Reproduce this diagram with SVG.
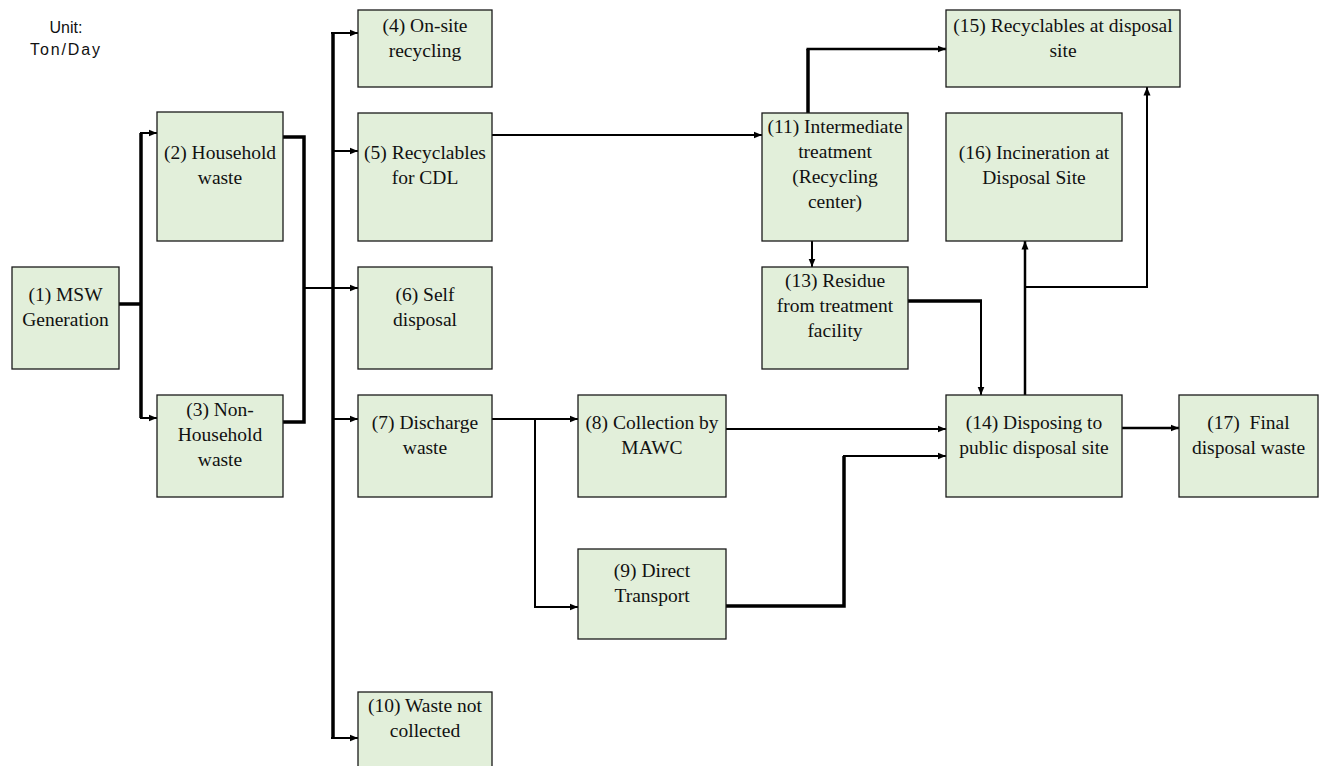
<svg xmlns="http://www.w3.org/2000/svg" width="1320" height="766" viewBox="0 0 1320 766">
<style>
.box{fill:#E2EFDA;stroke:#1a1a1a;stroke-width:1.3}
.t{font-family:"Liberation Serif","Times New Roman",serif;font-size:19.5px;fill:#111;text-anchor:middle}
.u{font-family:"Liberation Sans",Arial,sans-serif;font-size:16px;fill:#111;text-anchor:middle}
.c{fill:none;stroke:#000;stroke-linejoin:miter;stroke-linecap:butt}
.thin{stroke-width:2}
.mid{stroke-width:2.5}
.thick{stroke-width:3.5}
</style>
<defs>
<marker id="ah" markerUnits="userSpaceOnUse" markerWidth="9" markerHeight="8" refX="8.5" refY="4" orient="auto">
<path d="M0,0.5 L8.5,4 L0,7.5 z" fill="#000"/>
</marker>
</defs>
<rect width="1320" height="766" fill="#fff"/>
<g id="unit">
<text class="u" x="66" y="33">Unit:</text>
<text class="u" x="65" y="55" textLength="70" lengthAdjust="spacing">Ton/Day</text>
</g>
<g id="connectors">
<path class="c thick" d="M119,304 H141"/>
<path class="c thick" d="M141,133 V418"/>
<path class="c thin" d="M140,133 H157" marker-end="url(#ah)"/>
<path class="c thin" d="M140,418 H157" marker-end="url(#ah)"/>
<path class="c thick" d="M283,137 H304 V422 H283"/>
<path class="c thin" d="M304,288 H358" marker-end="url(#ah)"/>
<path class="c thick" d="M333,32 V739"/>
<path class="c thin" d="M331,33 H358" marker-end="url(#ah)"/>
<path class="c thin" d="M333,151 H358" marker-end="url(#ah)"/>
<path class="c thin" d="M333,419 H358" marker-end="url(#ah)"/>
<path class="c thin" d="M331,738 H358" marker-end="url(#ah)"/>
<path class="c thin" d="M492,419 H578" marker-end="url(#ah)"/>
<path class="c thin" d="M535,419 V607 H578" marker-end="url(#ah)"/>
<path class="c thin" d="M726,429 H946" marker-end="url(#ah)"/>
<path class="c thick" d="M726,606 H844 V456"/>
<path class="c thin" d="M843,456 H946" marker-end="url(#ah)"/>
<path class="c thin" d="M492,135 H762" marker-end="url(#ah)"/>
<path class="c thick" d="M808,113 V49"/>
<path class="c mid" d="M806.5,49 H946" marker-end="url(#ah)"/>
<path class="c thin" d="M812,241 V267" marker-end="url(#ah)"/>
<path class="c thick" d="M908,301 H982"/>
<path class="c thin" d="M981,300 V395" marker-end="url(#ah)"/>
<path class="c mid" d="M1025,395 V241" marker-end="url(#ah)"/>
<path class="c thin" d="M1025,287 H1147 V87" marker-end="url(#ah)"/>
<path class="c mid" d="M1122,428 H1179" marker-end="url(#ah)"/>
</g>
<g id="n1"><rect class="box" x="12" y="267" width="107" height="102"/><text class="t" x="65.5" y="300.5">(1) MSW</text><text class="t" x="65.5" y="325.5">Generation</text></g>
<g id="n2"><rect class="box" x="157" y="112" width="126" height="129"/><text class="t" x="220" y="158.5">(2) Household</text><text class="t" x="220" y="183.5">waste</text></g>
<g id="n3"><rect class="box" x="157" y="395" width="126" height="102"/><text class="t" x="220" y="416">(3) Non-</text><text class="t" x="220" y="441">Household</text><text class="t" x="220" y="466">waste</text></g>
<g id="n4"><rect class="box" x="358" y="10" width="134" height="77"/><text class="t" x="425" y="31.5">(4) On-site</text><text class="t" x="425" y="56.5">recycling</text></g>
<g id="n5"><rect class="box" x="358" y="113" width="134" height="128"/><text class="t" x="425" y="159">(5) Recyclables</text><text class="t" x="425" y="184">for CDL</text></g>
<g id="n6"><rect class="box" x="358" y="267" width="134" height="102"/><text class="t" x="425" y="300.5">(6) Self</text><text class="t" x="425" y="325.5">disposal</text></g>
<g id="n7"><rect class="box" x="358" y="395" width="134" height="102"/><text class="t" x="425" y="428.5">(7) Discharge</text><text class="t" x="425" y="453.5">waste</text></g>
<g id="n10"><rect class="box" x="358" y="692" width="134" height="80"/><text class="t" x="425" y="712">(10) Waste not</text><text class="t" x="425" y="737">collected</text></g>
<g id="n8"><rect class="box" x="578" y="395" width="148" height="102"/><text class="t" x="652" y="428.5">(8) Collection by</text><text class="t" x="652" y="453.5">MAWC</text></g>
<g id="n9"><rect class="box" x="578" y="549" width="148" height="90"/><text class="t" x="652" y="577">(9) Direct</text><text class="t" x="652" y="602">Transport</text></g>
<g id="n11"><rect class="box" x="762" y="113" width="146" height="128"/><text class="t" x="835" y="133">(11) Intermediate</text><text class="t" x="835" y="158">treatment</text><text class="t" x="835" y="183">(Recycling</text><text class="t" x="835" y="208">center)</text></g>
<g id="n13"><rect class="box" x="762" y="267" width="146" height="102"/><text class="t" x="835" y="287">(13) Residue</text><text class="t" x="835" y="312">from treatment</text><text class="t" x="835" y="337">facility</text></g>
<g id="n15"><rect class="box" x="946" y="10" width="234" height="77"/><text class="t" x="1063" y="31.5">(15) Recyclables at disposal</text><text class="t" x="1063" y="56.5">site</text></g>
<g id="n16"><rect class="box" x="946" y="113" width="176" height="128"/><text class="t" x="1034" y="159">(16) Incineration at</text><text class="t" x="1034" y="184">Disposal Site</text></g>
<g id="n14"><rect class="box" x="946" y="395" width="176" height="102"/><text class="t" x="1034" y="428.5">(14) Disposing to</text><text class="t" x="1034" y="453.5">public disposal site</text></g>
<g id="n17"><rect class="box" x="1179" y="395" width="139" height="102"/><text class="t" x="1248.5" y="428.5" xml:space="preserve">(17)  Final</text><text class="t" x="1248.5" y="453.5">disposal waste</text></g>
</svg>
